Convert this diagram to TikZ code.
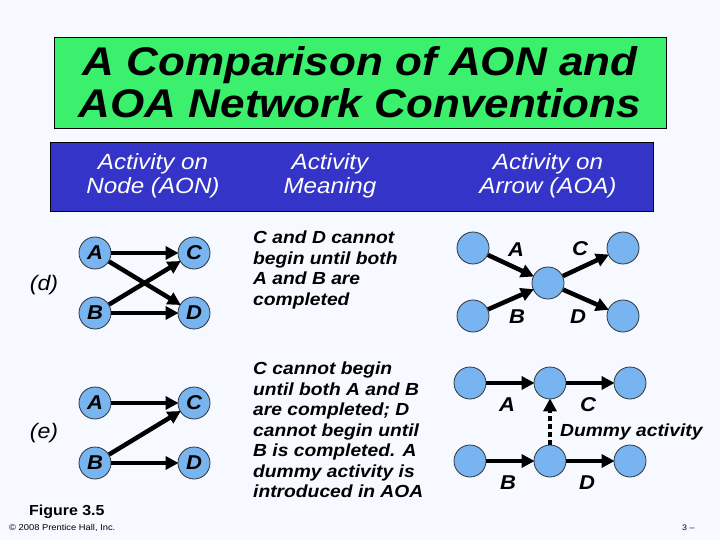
\documentclass[tikz,border=0pt]{standalone}
\usepackage{fontspec}
\setmainfont{Liberation Sans}[FakeStretch=1.1]
\usetikzlibrary{arrows.meta}
\definecolor{bg}{RGB}{246,249,255}
\definecolor{titlegreen}{RGB}{58,240,108}
\definecolor{headblue}{RGB}{52,52,200}
\definecolor{nodeblue}{RGB}{120,180,240}
\tikzset{
  circ/.style={circle,draw=black!80,line width=0.8pt,fill=nodeblue,minimum size=32pt,inner sep=0pt,
    font=\fontsize{20}{20}\selectfont\bfseries\itshape},
  arr/.style={line width=4.5pt,-{Triangle[length=13pt,width=13pt]},shorten >=-1pt},
  lbl/.style={font=\fontsize{20}{20}\selectfont\bfseries\itshape},
  side/.style={font=\fontsize{21}{21}\selectfont\itshape},
  meaning/.style={anchor=north west,align=left,inner sep=0pt,font=\fontsize{17.5}{20.5}\selectfont\bfseries\itshape},
  head/.style={text=white,align=center,font=\fontsize{22}{24}\selectfont\itshape}
}
\begin{document}
\begin{tikzpicture}[x=1pt,y=-1pt]
\path[use as bounding box,fill=bg] (0,0) rectangle (720,540);
% title
\node[draw=black,line width=0.8pt,fill=titlegreen,minimum width=612pt,minimum height=91pt,
  align=center,font=\fontsize{40}{42}\selectfont\bfseries\itshape] (title) at (360,82.5)
  {A Comparison of AON and\\AOA Network Conventions};
% header
\node[draw=black,line width=0.8pt,fill=headblue,minimum width=603pt,minimum height=69pt] (hdr) at (351.5,176.5) {};
\node[head] (h1) at (153,176) {Activity on\\Node (AON)};
\node[head] (h2) at (330,176) {Activity\\Meaning};
\node[head] (h3) at (548,176) {Activity on\\Arrow (AOA)};
% (d) AON
\node[side] (dl) at (44,285) {(d)};
\node[circ] (dA) at (95,253) {A};
\node[circ] (dC) at (194,253) {C};
\node[circ] (dB) at (95,313) {B};
\node[circ] (dD) at (194,313) {D};
\draw[arr] (dA) -- (dC);
\draw[arr] (dA) -- (dD);
\draw[arr] (dB) -- (dC);
\draw[arr] (dB) -- (dD);
% (e) AON
\node[side] (el) at (44,433) {(e)};
\node[circ] (eA) at (95,403) {A};
\node[circ] (eC) at (194,403) {C};
\node[circ] (eB) at (95,463) {B};
\node[circ] (eD) at (194,463) {D};
\draw[arr] (eA) -- (eC);
\draw[arr] (eB) -- (eC);
\draw[arr] (eB) -- (eD);
% meaning texts
\node[meaning] (m1) at (253,231) {C and D cannot\\begin until both\\A and B are\\completed};
\node[meaning] (m2) at (253,362) {C cannot begin\\until both A and B\\are completed; D\\cannot begin until\\B is completed. A\\dummy activity is\\introduced in AOA};
% (d) AOA
\node[circ] (p1) at (473,248) {};
\node[circ] (p2) at (473,316) {};
\node[circ] (pm) at (548,283) {};
\node[circ] (p3) at (623,248) {};
\node[circ] (p4) at (623,316) {};
\draw[arr] (p1) -- (pm);
\draw[arr] (p2) -- (pm);
\draw[arr] (pm) -- (p3);
\draw[arr] (pm) -- (p4);
\node[lbl] (pA) at (516,250) {A};
\node[lbl] (pB) at (517,317) {B};
\node[lbl] (pC) at (580,249) {C};
\node[lbl] (pD) at (578,317) {D};
% (e) AOA
\node[circ] (q1) at (470,383) {};
\node[circ] (q2) at (550,383) {};
\node[circ] (q3) at (630,383) {};
\node[circ] (q4) at (470,461) {};
\node[circ] (q5) at (550,461) {};
\node[circ] (q6) at (630,461) {};
\draw[arr] (q1) -- (q2);
\draw[arr] (q2) -- (q3);
\draw[arr] (q4) -- (q5);
\draw[arr] (q5) -- (q6);
\draw[arr,dash pattern=on 5pt off 3pt] (q5) -- (q2);
\node[lbl] (qA) at (507,405) {A};
\node[lbl] (qC) at (588,405) {C};
\node[lbl] (qB) at (508,483) {B};
\node[lbl] (qD) at (587,483) {D};
\node[anchor=west,inner sep=0pt,font=\fontsize{17.5}{17.5}\selectfont\bfseries\itshape] (dum) at (560,432) {Dummy activity};
% footer
\node[anchor=west,inner sep=0pt,font=\fontsize{14.5}{15}\selectfont\bfseries] (fig) at (29,512) {Figure 3.5};
\node[anchor=west,inner sep=0pt,font=\fontsize{8.5}{9}\selectfont] (copy) at (9,528) {\textcopyright{} 2008 Prentice Hall, Inc.};
\node[anchor=west,inner sep=0pt,font=\fontsize{8}{9}\selectfont] (pg) at (682,528) {3 –};
\end{tikzpicture}
\end{document}
